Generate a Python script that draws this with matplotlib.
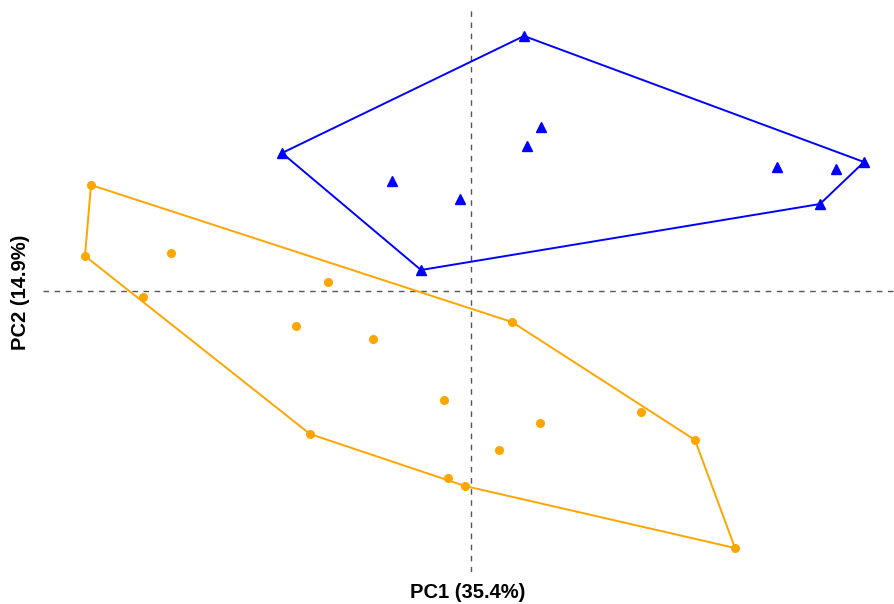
import matplotlib.pyplot as plt
import numpy as np

# PCA scores
pc1_blue = [0.53, -1.89, 3.93, 3.49, -0.50, -0.79, -0.11, 0.56, 0.70, 3.06, 3.65]
pc2_blue = [2.55, 1.38, 1.29, 0.87, 0.21, 1.10, 0.92, 1.45, 1.64, 1.24, 1.22]

pc1_orange = [-3.80, -3.86, -3.00, -1.43, -3.28, -1.75, -0.98, -0.27, -1.61,
              -0.23, -0.06, 2.64, 2.24, 1.70, 0.69, 0.28, 0.41]
pc2_orange = [1.06, 0.35, 0.38, 0.09, -0.06, -0.35, -0.48, -1.09, -1.43,
              -1.87, -1.95, -2.57, -1.49, -1.21, -1.32, -1.59, -0.31]

xlab = "PC1 (35.4%)"
ylab = "PC2 (14.9%)"


def hull(xs, ys):
    # monotone chain convex hull, returns closed polygon
    pts = sorted(zip(xs, ys))

    def cross(o, a, b):
        return (a[0]-o[0])*(b[1]-o[1]) - (a[1]-o[1])*(b[0]-o[0])
    lower, upper = [], []
    for p in pts:
        while len(lower) >= 2 and cross(lower[-2], lower[-1], p) < 0:
            lower.pop()
        lower.append(p)
    for p in reversed(pts):
        while len(upper) >= 2 and cross(upper[-2], upper[-1], p) < 0:
            upper.pop()
        upper.append(p)
    h = lower[:-1] + upper[:-1]
    h.append(h[0])
    return np.array(h)


fig = plt.figure(figsize=(8.95, 6.04), dpi=100)
ax = fig.add_axes([43/895, 32/604, 852/895, 564/604])

ax.axhline(0, color="#555555", lw=1.0, ls=(0, (4, 4)), zorder=1)
ax.axvline(0, color="#555555", lw=1.0, ls=(0, (4, 4)), zorder=1)

hb = hull(pc1_blue, pc2_blue)
ho = hull(pc1_orange, pc2_orange)
ax.plot(hb[:, 0], hb[:, 1], color="#0000FF", lw=1.4, zorder=2)
ax.plot(ho[:, 0], ho[:, 1], color="#FFA500", lw=1.4, zorder=2)

ax.plot(pc1_blue, pc2_blue, ls="none", marker="^", ms=7, color="#0000FF", zorder=3)
ax.plot(pc1_orange, pc2_orange, ls="none", marker="o", ms=5.5, color="#FFA500", zorder=3)

ax.set_xlim(-4.28, 4.24)
ax.set_ylim(-2.81, 2.83)
ax.set_xticks([])
ax.set_yticks([])
for s in ax.spines.values():
    s.set_visible(False)

fig.text(468/895, 1 - 592/604, xlab, ha="center", va="center",
         fontsize=14.5, fontweight="bold", family="Liberation Sans")
fig.text(21/895, 1 - 292/604, ylab, ha="center", va="center", rotation=90,
         fontsize=14.5, fontweight="bold", family="Liberation Sans")

fig.savefig("out.png", dpi=100)
